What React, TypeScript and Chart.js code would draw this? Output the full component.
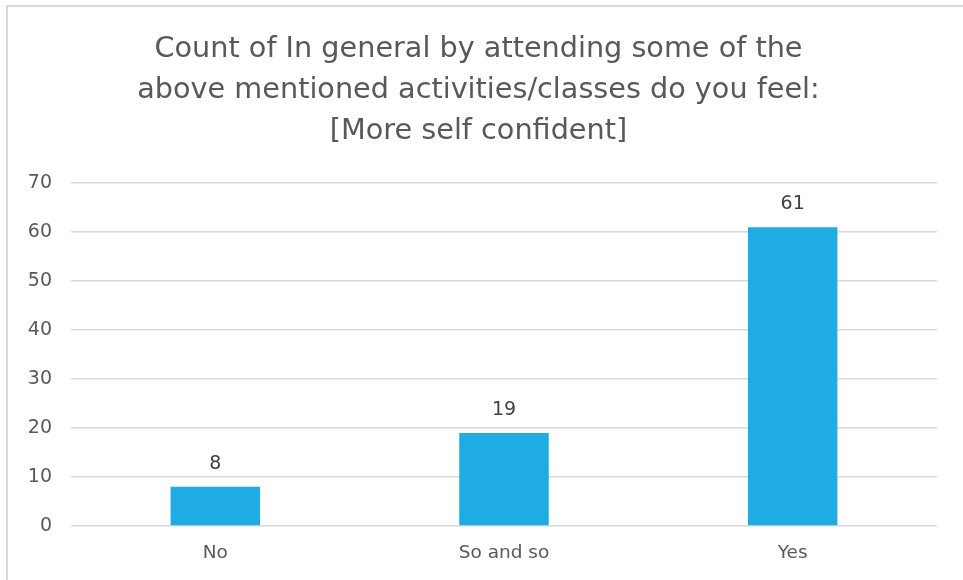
import React, { useEffect, useRef } from "react";
import { Chart, registerables } from "chart.js";

Chart.register(...registerables);

const categories = ["No", "So and so", "Yes"];
const counts = [8, 19, 61];
const titleLines = [
  "Count of In general by attending some of the",
  "above mentioned activities/classes do you feel:",
  "[More self confident]",
];
const yMin = 0;
const yMax = 70;
const yStep = 10;

const FONT = "'DejaVu Sans', sans-serif";
const TEXT = "#595959";

const valueLabels = {
  id: "valueLabels",
  afterDatasetsDraw(chart: any) {
    const ctx = chart.ctx;
    const meta = chart.getDatasetMeta(0);
    ctx.save();
    ctx.font = `19px ${FONT}`;
    ctx.fillStyle = "#404040";
    ctx.textAlign = "center";
    ctx.textBaseline = "middle";
    meta.data.forEach((bar: any, i: number) => {
      ctx.fillText(String(counts[i]), bar.x, bar.y - 23);
    });
    ctx.restore();
  },
};

export default function App() {
  const ref = useRef<HTMLCanvasElement | null>(null);
  useEffect(() => {
    if (!ref.current) return;
    const chart = new Chart(ref.current, {
      type: "bar",
      data: {
        labels: categories,
        datasets: [
          {
            data: counts,
            backgroundColor: "#1EACE3",
            borderWidth: 0,
            categoryPercentage: 1,
            barPercentage: 0.31,
          },
        ],
      },
      options: {
        responsive: false,
        animation: false,
        devicePixelRatio: 1,
        layout: { padding: { left: 20, right: 26, top: 29, bottom: 0 } },
        plugins: {
          legend: { display: false },
          tooltip: { enabled: false },
          title: {
            display: true,
            text: titleLines,
            color: TEXT,
            font: { family: FONT, size: 28.7, weight: "normal", lineHeight: 1.43 },
            padding: { top: 0, bottom: 31 },
          },
        },
        scales: {
          x: {
            grid: { display: false, drawTicks: false },
            border: { display: false },
            ticks: { color: TEXT, font: { family: FONT, size: 18.5 }, padding: 16 },
            afterFit(scale: any) {
              scale.height = 54;
            },
          },
          y: {
            min: yMin,
            max: yMax,
            ticks: {
              stepSize: yStep,
              color: TEXT,
              font: { family: FONT, size: 19 },
              padding: 19,
            },
            grid: { color: "#d9d9d9", lineWidth: 1.5, drawTicks: false },
            border: { display: false },
            afterFit(scale: any) {
              scale.width = 51;
            },
          },
        },
      },
      plugins: [valueLabels],
    });
    return () => chart.destroy();
  }, []);

  return (
    <div
      style={{
        position: "fixed",
        left: 0,
        top: 0,
        width: 963,
        height: 580,
        background: "#fff",
        overflow: "hidden",
      }}
    >
      <div
        style={{
          position: "absolute",
          left: 6,
          top: 5,
          width: 1000,
          height: 1000,
          borderLeft: "2px solid #d9d9d9",
          borderTop: "2px solid #d9d9d9",
        }}
      />
      <canvas
        ref={ref}
        width={963}
        height={580}
        style={{ position: "absolute", left: 0, top: 0, width: 963, height: 580 }}
      />
    </div>
  );
}
